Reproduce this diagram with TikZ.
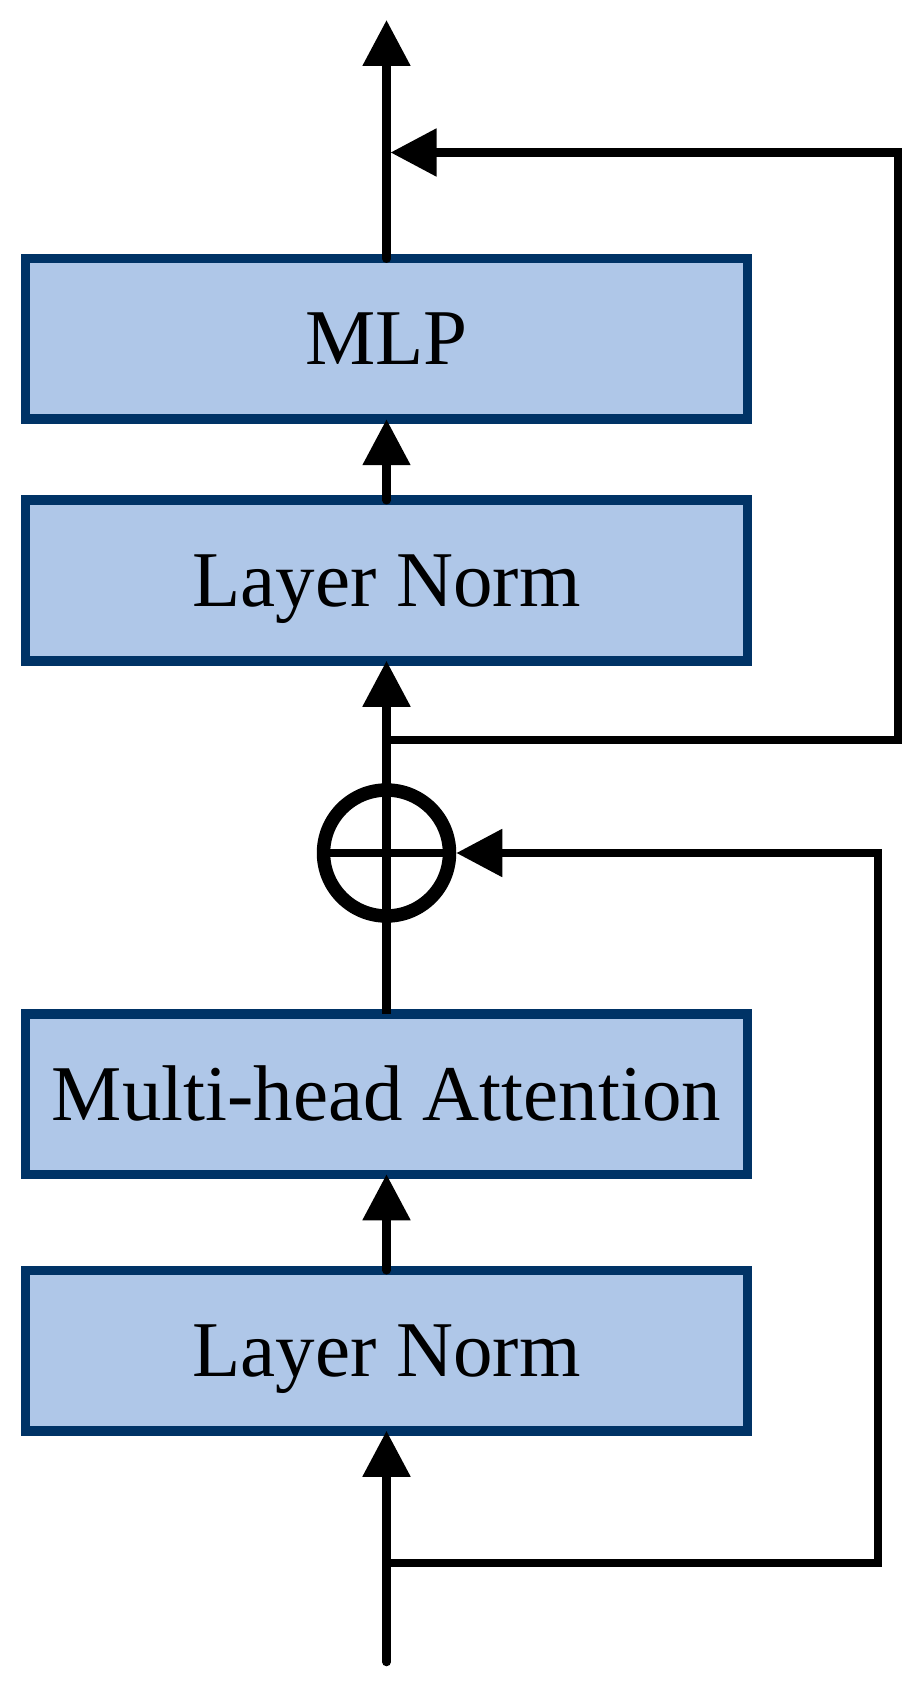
\documentclass[tikz,border=0pt]{standalone}
\usepackage{fontspec}
\setmainfont{Liberation Serif}
\usetikzlibrary{positioning,arrows.meta}
\definecolor{boxfill}{RGB}{175,199,232}
\definecolor{boxline}{RGB}{0,51,102}
\begin{document}
\begin{tikzpicture}[x=0.5pt, y=-0.5pt,
  block/.style = {draw=boxline, fill=boxfill, line width=4.75pt, minimum width=361pt, minimum height=80.25pt, inner sep=0pt, outer sep=0pt, text height=26pt, text depth=0pt, font=\fontsize{39.5}{47}\selectfont},
  sum/.style = {draw, circle, line width=6.75pt, minimum size=63pt, inner sep=0pt},
  link/.style = {line width=4.25pt, line cap=round, -{Triangle[length=23pt, width=23pt]}},
  plain/.style = {line width=4.25pt}]
\useasboundingbox (0,0) rectangle (924,1689);

\node[block] (1) at (386.5,1350.5) {Layer Norm};
\node[block] (2) [node distance=128.25pt, above of=1] {Multi-head Attention};
\node[sum] (3) [node distance=120.5pt, above of=2] {};
\node[block] (4) [node distance=136.25pt, above of=3] {Layer Norm};
\node[block] (5) [node distance=120.75pt, above of=4] {MLP};

\coordinate (0) at (386.5,1662);
\coordinate (6) at (386.5,20);
\coordinate (a) at (386.5,1563);
\coordinate (b) at (386.5,740);
\coordinate (c) at (390.5,152.5);

\draw[link] (0) -- (1);
\draw[link] (1) -- (2);
\draw[plain] (2) -- (3);
\draw[link] (3) -- (4);
\draw[link] (4) -- (5);
\draw[link] (5) -- (6);
\draw[plain] (3.north) -- (3.south) (3.west) -- (3.east);

\draw[link, line cap=butt] (a) -- ++(491.5,0) |- (3.east);
\draw[link, line cap=butt] (b) -- ++(511.5,0) |- (c);
\end{tikzpicture}
\end{document}
